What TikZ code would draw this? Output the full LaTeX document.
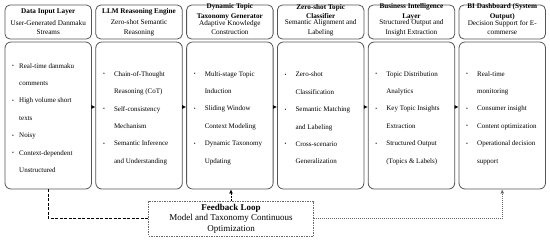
\documentclass[tikz,border=0pt]{standalone}
\usepackage{fontspec}
\setmainfont{Liberation Serif}
\usetikzlibrary{positioning,arrows.meta,calc}
\definecolor{boxline}{RGB}{85,85,85}
\definecolor{loopline}{RGB}{105,105,105}
\newcommand{\blt}[1][11pt]{\makebox[#1][l]{\raisebox{0.2ex}{\scalebox{0.75}{\textbullet}}}}
\newcommand{\cnt}[1][11pt]{\hspace*{#1}}
\tikzset{
  hdrbox/.style={draw=boxline,line width=0.8pt,rounded corners=5pt,minimum width=86.5pt,minimum height=34pt,inner sep=0pt},
  bodybox/.style={draw=boxline,line width=0.8pt,rounded corners=6pt,minimum width=86.5pt,minimum height=147pt,inner sep=0pt},
  hdrtitle/.style={font=\fontsize{7.2}{9.6}\selectfont\bfseries,align=center,inner sep=0pt},
  hdrsub/.style={font=\fontsize{7.2}{9.8}\selectfont,align=center,inner sep=0pt},
  bodytext/.style={font=\fontsize{7}{17.4}\selectfont,align=left,anchor=west,inner sep=0pt},
  flow/.style={line width=0.7pt,-{Latex[length=4pt,width=4pt]}},
  fbbox/.style={draw=loopline,line width=0.7pt,dash pattern=on 1.5pt off 1pt,minimum width=165pt,minimum height=35pt,
    font=\fontsize{9}{10.5}\selectfont,align=center,inner sep=0pt},
  loopdash/.style={line width=1.2pt,dash pattern=on 3pt off 1.5pt},
  loopup/.style={line width=0.8pt,dash pattern=on 2pt off 1pt,-{Latex[length=4pt,width=4pt]}},
  loopdot/.style={draw=loopline,line width=0.8pt,dash pattern=on 1pt off 1pt,-{Latex[length=4pt,width=4pt]}}
}
% one column: header box + body box
\newcommand{\layer}[4]{%
  \pgfmathsetmacro{\lx}{5+(#1-1)*90.8}
  \node[hdrbox] (h#1) at ({\lx+43.25},22) {};
  \node[hdrtitle] (t#1) at ({\lx+43.25},11.5) {#2};
  \node[hdrsub] (s#1) at ({\lx+43.25},27.5) {#3};
  \node[bodybox] (c#1) at ({\lx+43.25},115.5) {};
  \node[bodytext] (b#1) at ({\lx+7},118) {#4};
}
\begin{document}
\begin{tikzpicture}[x=1pt,y=-1pt]
\useasboundingbox (0,0) rectangle (550,242);
\layer{1}{Data Input Layer}{User-Generated Danmaku\\Streams}
  {\blt[7pt]Real-time danmaku\\\cnt[7pt]comments\\\blt[7pt]High volume short\\\cnt[7pt]texts\\\blt[7pt]Noisy\\\blt[7pt]Context-dependent\\\cnt[7pt]Unstructured}
\layer{2}{LLM Reasoning Engine}{Zero-shot Semantic\\Reasoning}
  {\blt Chain-of-Thought\\\cnt Reasoning (CoT)\\\blt Self-consistency\\\cnt Mechanism\\\blt Semantic Inference\\\cnt and Understanding}
\layer{3}{Dynamic Topic\\Taxonomy Generator}{Adaptive Knowledge\\Construction}
  {\blt Multi-stage Topic\\\cnt Induction\\\blt Sliding Window\\\cnt Context Modeling\\\blt Dynamic Taxonomy\\\cnt Updating}
\layer{4}{Zero-shot Topic\\Classifier}{Semantic Alignment and\\Labeling}
  {\blt Zero-shot\\\cnt Classification\\\blt Semantic Matching\\\cnt and Labeling\\\blt Cross-scenario\\\cnt Generalization}
\layer{5}{Business Intelligence\\Layer}{Structured Output and\\Insight Extraction}
  {\blt Topic Distribution\\\cnt Analytics\\\blt Key Topic Insights\\\cnt Extraction\\\blt Structured Output\\\cnt (Topics \& Labels)}
\layer{6}{BI Dashboard (System\\Output)}{Decision Support for E-\\commerse}
  {\blt Real-time\\\cnt monitoring\\\blt Consumer insight\\\blt Content optimization\\\blt Operational decision\\\cnt support}
% flow between layers
\foreach \i [count=\j from 2] in {1,...,5}{
  \draw[flow] ([yshift=8.5pt]c\i.east) -- ([yshift=8.5pt]c\j.west);
}
% feedback loop
\node[fbbox] (fb) at (231,218.5) {\textbf{Feedback Loop}\\Model and Taxonomy Continuous\\Optimization};
\draw[loopdash] (c1.south) |- (fb.west);
\draw[loopup] (fb.north) -- (fb.north |- c3.south);
\draw[loopdot] (fb.east) -| (c6.south);
\end{tikzpicture}
\end{document}
